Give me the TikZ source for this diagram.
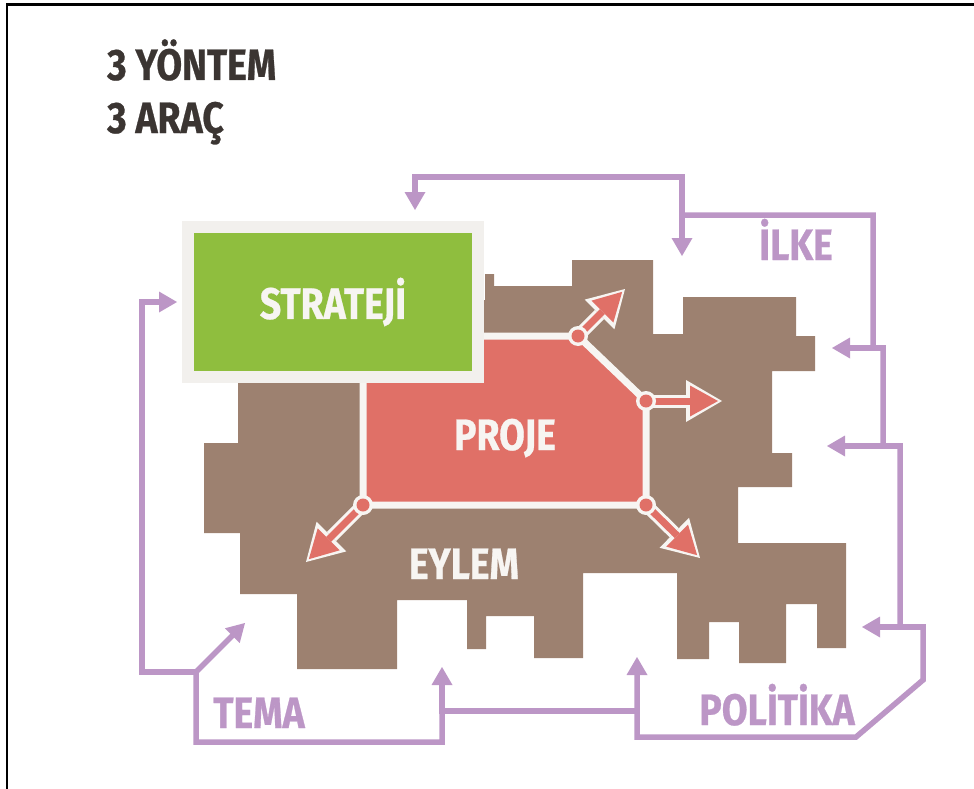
\documentclass[tikz,border=0pt]{standalone}
\usepackage{fontspec}
\newfontfamily\condfont{Fira Sans}[FakeStretch=0.85, FakeBold=0.6]
\usetikzlibrary{arrows.meta}
\definecolor{brownc}{HTML}{9D8170}
\definecolor{redc}{HTML}{E07067}
\definecolor{greenc}{HTML}{8FBE3E}
\definecolor{purplec}{HTML}{BC96C6}
\definecolor{boxgrey}{HTML}{F2F0ED}
\definecolor{lblwhite}{HTML}{F7F5F2}
\definecolor{titlec}{HTML}{3B3532}

\begin{document}
\begin{tikzpicture}[x=1pt, y=-1pt,
  lbl/.style={font=\condfont\bfseries\fontsize{44}{44}\selectfont, inner sep=0pt, anchor=base},
  wlbl/.style={lbl, text=lblwhite},
  plbl/.style={lbl, text=purplec},
  boxnode/.style={lbl, anchor=center, text=lblwhite, fill=greenc, draw=boxgrey, line width=12,
    minimum width=290pt, minimum height=150pt},
  pline/.style={draw=purplec, line width=5.5, line cap=rect, line join=miter},
  parrow/.style={pline, -{Triangle[length=18pt, width=21pt, line width=0pt]}},
  pboth/.style={pline, {Triangle[length=18pt, width=21pt, line width=0pt]}-{Triangle[length=18pt, width=21pt, line width=0pt]}},
  redcase/.style={draw=lblwhite, line width=13, -{Triangle[length=36pt, width=42pt, line width=0pt]}},
  redshaft/.style={draw=redc, line width=7, shorten >=4pt, -{Triangle[length=28pt, width=31pt, line width=0pt]}}]

  \useasboundingbox (0,0) rectangle (974,789);
  \draw[line width=2.5] (7,789) |- (974,4.5);

  \fill[brownc] (238,300) -- (485,300) -- (485,274) -- (494,274) -- (494,286) -- (572,286)
    -- (572,260) -- (653,260) -- (653,334) -- (683,334) -- (683,297) -- (796,297) -- (796,336)
    -- (815,336) -- (815,371) -- (772,371) -- (772,453) -- (792,453) -- (792,487) -- (738,487)
    -- (738,543) -- (846,543) -- (846,648) -- (817,648) -- (817,604) -- (786,604) -- (786,663)
    -- (739,663) -- (739,622) -- (709,622) -- (709,659) -- (677,659) -- (677,573) -- (583,573)
    -- (583,658) -- (534,658) -- (534,616) -- (486,616) -- (486,649) -- (467,649) -- (467,600)
    -- (397,600) -- (397,669) -- (297,669) -- (297,594) -- (240,594) -- (240,533) -- (204,533)
    -- (204,443) -- (238,443) -- cycle;

  \coordinate (c1) at (578,336);
  \coordinate (c2) at (646,401);
  \coordinate (c3) at (363,505);
  \coordinate (c4) at (646,505);
  \filldraw[fill=redc, draw=lblwhite, line width=7] (363,336) -- (c1) -- (c2) -- (c4) -- (c3) -- cycle;

  \coordinate (a1) at (625,289);
  \coordinate (a2) at (722,401);
  \coordinate (a3) at (306,562);
  \coordinate (a4) at (700,558);
  \foreach \c/\a in {c1/a1, c2/a2, c3/a3, c4/a4} {
    \draw[redcase] (\c) -- (\a);
    \draw[redshaft] (\c) -- (\a);
    \fill[lblwhite] (\c) circle (10pt);
    \fill[redc] (\c) circle (6.5pt);
  }

  \node (strateji) [boxnode] at (333,302) {STRATEJİ};
  \node (proje) [wlbl] at (505,450) {PROJE};
  \node (eylem) [wlbl] at (464,579) {EYLEM};
  \node (ilke) [plbl] at (796,260) {İLKE};
  \node (tema) [plbl] at (259,728) {TEMA};
  \node (politika) [plbl] at (777,725) {POLİTİKA};
  \node (yontem) [lbl, anchor=base west, text=titlec] at (107,80) {3 YÖNTEM};
  \node (arac) [lbl, anchor=base west, text=titlec] at (107,133) {3 ARAÇ};

  \coordinate (sTop) at (415,210);
  \coordinate (sLeft) at (177,302);
  \coordinate (eTop) at (682,256);
  \coordinate (eR1) at (832,348);
  \coordinate (eR2) at (827,446);
  \coordinate (eR3) at (862,627);
  \coordinate (eB1) at (637,657);
  \coordinate (eB2) at (442,667);
  \coordinate (eB3) at (245,623);
  \coordinate (k1) at (682,215);
  \coordinate (k2) at (883,348);
  \coordinate (k3) at (900,446);
  \coordinate (k4) at (923,627);
  \coordinate (k5) at (637,711);
  \coordinate (k6) at (442,711);
  \coordinate (k7) at (196,672);

  \draw[pboth] (sTop) -- ++(0,-33) -| (eTop);
  \draw[parrow] (k1) -| (873,348) -| (883,446) -| (900,627) -| (923,680) -- (856,737) -| (eB1);
  \draw[parrow] (k2) -- (eR1);
  \draw[parrow] (k3) -- (eR2);
  \draw[parrow] (k4) -- (eR3);
  \draw[parrow] (k5) -| (eB2);
  \draw[parrow] (k6) -- ++(0,31) -| (k7) -- (eB3);
  \draw[parrow] (k7) -- ++(-54,0) |- (sLeft);
\end{tikzpicture}
\end{document}
